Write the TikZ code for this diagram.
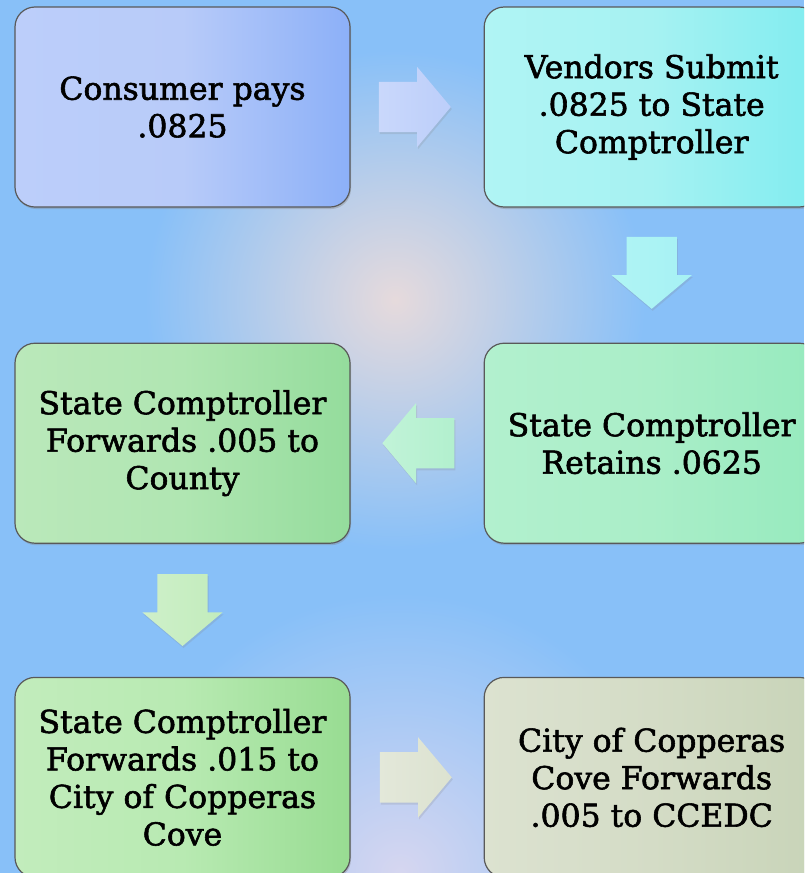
\documentclass[tikz,border=0pt]{standalone}
\usepackage{fontspec}
\setmainfont{DejaVu Serif}[FakeBold=1.8]
\usepackage{xcolor}
\usepackage{tikz}
\usetikzlibrary{shapes.arrows, positioning, calc, shadows}

\definecolor{bgblue}{HTML}{88C0F8}
\definecolor{glowpink}{HTML}{E6DADC}
\definecolor{glowlav}{HTML}{D6D6F0}
\definecolor{consL}{HTML}{BCCEFA}
\definecolor{consM}{HTML}{B8CBF9}
\definecolor{consR}{HTML}{8CB0F8}
\definecolor{vendL}{HTML}{B0F4F4}
\definecolor{vendM}{HTML}{A6F2F2}
\definecolor{vendR}{HTML}{80ECF0}
\definecolor{retL}{HTML}{B2F0CE}
\definecolor{retM}{HTML}{AAEEC8}
\definecolor{retR}{HTML}{96EABE}
\definecolor{fwdcL}{HTML}{BAE8BA}
\definecolor{fwdcM}{HTML}{B0E6B2}
\definecolor{fwdcR}{HTML}{94DC9C}
\definecolor{cityL}{HTML}{C2ECBC}
\definecolor{cityM}{HTML}{B8EAB2}
\definecolor{cityR}{HTML}{98DC92}
\definecolor{edcL}{HTML}{DCE2D0}
\definecolor{edcM}{HTML}{D4DCC6}
\definecolor{edcR}{HTML}{C8D4B8}

\begin{document}
\begin{tikzpicture}[x=1pt, y=1pt,
  box/.style={rectangle, rounded corners=20pt, draw=black!65, line width=1.2pt, minimum width=335pt, minimum height=200pt, align=center, font=\fontsize{31.5}{37.5}\selectfont, text=black, drop shadow={opacity=0.35, shadow xshift=1pt, shadow yshift=-2pt}},
  flow/.style={single arrow, minimum height=72pt, minimum width=80pt, single arrow head extend=15pt, single arrow tip angle=100, drop shadow={opacity=0.2, shadow xshift=1pt, shadow yshift=-2pt}},
  flowh/.style={flow, inner xsep=0pt, inner ysep=25pt},
  flowv/.style={flow, inner xsep=25pt, inner ysep=0pt, shape border rotate=270}]
\useasboundingbox (0,0) rectangle (804,-873);
\clip (0,0) rectangle (804,-873);

% background
\fill[bgblue] (0,0) rectangle (804,-873);
\shade[inner color=glowpink, outer color=bgblue] (395,-300) circle (250);
\shade[inner color=glowlav, outer color=bgblue] (400,-873) circle (280);

% steps
\node (cons) [box, left color=consL, right color=consR, middle color=consM] at (182.5,-107) {Consumer pays\\.0825};
\node (vend) [box, left color=vendL, right color=vendR, middle color=vendM, right=133pt of cons] {Vendors Submit\\.0825 to State\\Comptroller};
\node (ret) [box, left color=retL, right color=retR, middle color=retM, below=135pt of vend] {State Comptroller\\Retains .0625};
\node (fwdc) [box, left color=fwdcL, right color=fwdcR, middle color=fwdcM, below=135pt of cons] {State Comptroller\\Forwards .005 to\\County};
\node (fwdcity) [box, left color=cityL, right color=cityR, middle color=cityM, below=133pt of fwdc] {State Comptroller\\Forwards .015 to\\City of Copperas\\Cove};
\node (ccedc) [box, left color=edcL, right color=edcR, middle color=edcM, right=133pt of fwdcity] {City of Copperas\\Cove Forwards\\.005 to CCEDC};

% arrows between steps
\node (a1) [flowh, right=28pt of cons, anchor=tail, left color=consL!80!white, right color=consL] {};
\node (a2) [flowv, below=29pt of vend, anchor=tail, left color=vendL, right color=vendR!70!white] {};
\node (a3) [flowh, shape border rotate=180, left=29pt of ret, anchor=tail, left color=retL!80!white, right color=retL] {};
\node (a4) [flowv, below=30pt of fwdc, anchor=tail, left color=cityL!80!white, right color=cityL] {};
\node (a5) [flowh, right=29pt of fwdcity, anchor=tail, left color=edcL!80!white, right color=edcL] {};
\end{tikzpicture}
\end{document}
